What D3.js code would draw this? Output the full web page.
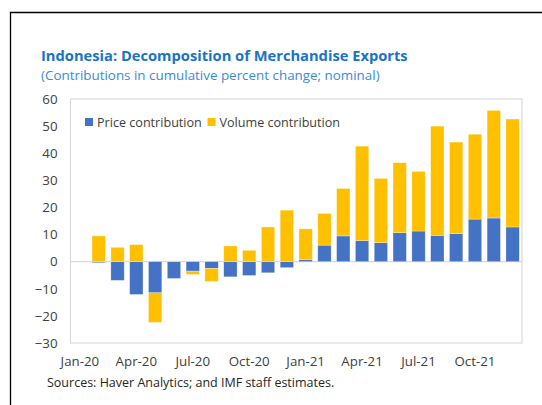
<!DOCTYPE html>
<html>
<head>
<meta charset="utf-8">
<script src="https://cdn.jsdelivr.net/npm/d3@7"></script>
<style>
  body { margin: 0; background: #fff; }
  svg { display: block; font-family: "Open Sans", "Noto Sans", sans-serif; }
</style>
</head>
<body>
<div id="graph"></div>
<script>
// months on the axis (Jan-20 is the base month, so no bar)
const months = ["Jan-20", "Feb-20", "Mar-20", "Apr-20", "May-20", "Jun-20", "Jul-20", "Aug-20",
  "Sep-20", "Oct-20", "Nov-20", "Dec-20", "Jan-21", "Feb-21", "Mar-21", "Apr-21", "May-21",
  "Jun-21", "Jul-21", "Aug-21", "Sep-21", "Oct-21", "Nov-21", "Dec-21"];
const priceContribution = [0, -0.4, -6.9, -12.1, -11.5, -6.2, -3.5, -2.5, -5.6, -5.1, -4.1, -2.2,
  0.8, 6.1, 9.5, 7.8, 7.0, 10.7, 11.3, 9.7, 10.4, 15.7, 16.1, 12.8];
const volumeContribution = [0, 9.5, 5.3, 6.3, -10.9, 0.3, -1.2, -4.8, 5.8, 4.2, 12.8, 19.0,
  11.3, 11.7, 17.5, 34.8, 23.7, 25.8, 22.0, 40.3, 33.7, 31.3, 39.7, 39.8];
const tickMonths = ["Jan-20", "Apr-20", "Jul-20", "Oct-20", "Jan-21", "Apr-21", "Jul-21", "Oct-21"];
const yTicks = [-30, -20, -10, 0, 10, 20, 30, 40, 50, 60];
const seriesNames = ["Price contribution", "Volume contribution"];
const colors = ["#4472C4", "#FFC000"];

const W = 542, H = 405;
const plot = { left: 70.5, right: 522, top: 99, bottom: 343 };

const svg = d3.select("#graph").append("svg")
  .attr("width", W).attr("height", H);

// outer frame (only top and left edges visible in the picture)
svg.append("path")
  .attr("d", `M10.5,${H} V12.5 H${W}`)
  .attr("fill", "none").attr("stroke", "#000").attr("stroke-width", 1.3);

svg.append("text").attr("x", 41).attr("y", 61)
  .attr("font-size", 14.7).attr("font-weight", 700).attr("fill", "#1A73C6")
  .text("Indonesia: Decomposition of Merchandise Exports");
svg.append("text").attr("x", 41).attr("y", 80)
  .attr("font-size", 13.4).attr("fill", "#3A8BD6")
  .text("(Contributions in cumulative percent change; nominal)");

const table = months.map((m, i) => ({ month: m, price: priceContribution[i], volume: volumeContribution[i] }));

const x = d3.scaleBand().domain(months).range([plot.left, plot.right])
  .paddingInner(0.29).paddingOuter(0.145);
const y = d3.scaleLinear().domain([-30, 60]).range([plot.bottom, plot.top]);

// plot area border
svg.append("rect")
  .attr("x", plot.left).attr("y", plot.top)
  .attr("width", plot.right - plot.left).attr("height", plot.bottom - plot.top)
  .attr("fill", "none").attr("stroke", "#D9D9D9").attr("stroke-width", 1.2);

// zero line
svg.append("line")
  .attr("x1", plot.left).attr("x2", plot.right)
  .attr("y1", y(0)).attr("y2", y(0))
  .attr("stroke", "#D9D9D9").attr("stroke-width", 1.2);

const stack = d3.stack().keys(["price", "volume"]).offset(d3.stackOffsetDiverging);
const layers = stack(table);

svg.append("g").selectAll("g")
  .data(layers).join("g")
  .attr("fill", (d, i) => colors[i])
  .selectAll("rect")
  .data(d => d.filter(p => p[0] !== p[1]))
  .join("rect")
  .attr("x", d => x(d.data.month))
  .attr("width", x.bandwidth())
  .attr("y", d => y(Math.max(d[0], d[1])))
  .attr("height", d => Math.abs(y(d[0]) - y(d[1])))
  .attr("stroke", "#fff").attr("stroke-opacity", 0.5).attr("stroke-width", 0.6);

// y axis labels
const yAxis = svg.append("g")
  .attr("transform", `translate(${plot.left},0)`)
  .call(d3.axisLeft(y).tickValues(yTicks).tickSize(0).tickPadding(13));
yAxis.select(".domain").remove();
yAxis.selectAll("text").attr("font-size", 13.3).attr("fill", "#404040")
  .attr("font-family", "Open Sans, sans-serif");

// x axis labels
const xAxis = svg.append("g")
  .attr("transform", `translate(0,${plot.bottom})`)
  .call(d3.axisBottom(x).tickValues(tickMonths).tickSize(0).tickPadding(14));
xAxis.select(".domain").remove();
xAxis.selectAll("text").attr("font-size", 13.3).attr("fill", "#404040")
  .attr("font-family", "Open Sans, sans-serif");

// legend
const legend = svg.append("g").attr("transform", "translate(85,122)");
const legendX = [0, 122.5];
seriesNames.forEach((name, i) => {
  legend.append("rect").attr("x", legendX[i]).attr("y", -4)
    .attr("width", 8).attr("height", 8).attr("fill", colors[i]);
  legend.append("text").attr("x", legendX[i] + 12).attr("y", 4.5)
    .attr("font-size", 12.6).attr("fill", "#404040").text(name);
});

svg.append("text").attr("x", 47).attr("y", 387)
  .attr("font-size", 12.5).attr("fill", "#262626")
  .text("Sources: Haver Analytics; and IMF staff estimates.");
</script>
</body>
</html>
